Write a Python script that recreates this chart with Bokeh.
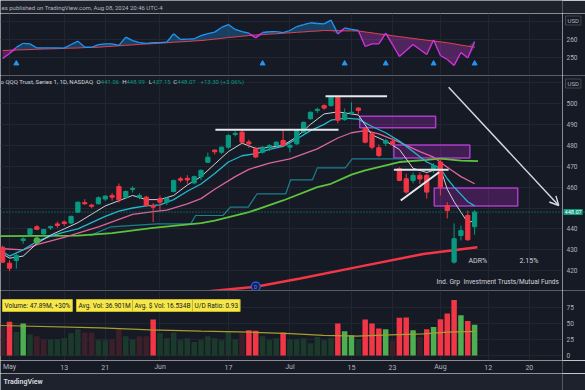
import numpy as np
from bokeh.plotting import figure
from bokeh.layouts import column, row
from bokeh.models import Range1d, FixedTicker, Label, Span, Arrow, OpenHead, ColumnDataSource
from bokeh.embed import file_html
from bokeh.resources import INLINE
from bokeh.core.properties import value

# ---------------- data ----------------
# bar index: -1 = Apr 30 2024, 0 = May 1, ... 68 = Aug 8 2024 (trading days)
bar_index = list(range(-1, 69))

opens = [431.2, 423.6, 424.9, 434.5, 437.4, 441.0, 437.6, 440.5, 442.4, 443.3,
         442.8, 448.0, 452.6, 451.4, 452.0, 454.3, 455.9, 460.3, 455.2, 458.9,
         455.2, 455.2, 451.2, 454.5, 452.8, 457.9, 464.0, 464.2, 462.0, 465.0,
         471.9, 477.7, 476.7, 479.1, 485.2, 486.3, 481.6, 478.3, 476.7, 479.1,
         479.9, 482.3, 479.1, 480.7, 486.3, 492.7, 496.8, 499.0, 499.0, 503.0,
         492.3, 495.3, 497.8, 487.9, 485.5, 478.8, 481.0, 481.8, 468.8, 464.0,
         463.2, 465.6, 465.6, 467.9, 472.0, 451.2, 424.1, 436.8, 446.4, 441.06]
highs = [432.0, 425.0, 428.0, 436.0, 440.3, 441.8, 440.0, 441.6, 443.5, 444.0,
         446.3, 453.0, 454.2, 452.0, 455.6, 456.0, 457.2, 461.7, 458.4, 460.4,
         457.0, 455.8, 452.3, 455.9, 455.2, 463.5, 465.0, 465.7, 465.5, 468.5,
         476.5, 478.0, 479.5, 485.3, 486.8, 487.3, 482.7, 479.3, 479.5, 480.5,
         481.9, 487.1, 481.0, 487.4, 491.3, 496.2, 498.0, 499.6, 503.5, 503.3,
         497.6, 500.6, 498.3, 488.3, 486.5, 480.4, 483.0, 483.5, 469.5, 466.4,
         467.0, 467.1, 466.4, 471.5, 473.7, 452.8, 442.6, 441.6, 448.8, 448.99]
lows = [423.6, 419.8, 421.0, 432.9, 437.0, 439.4, 437.2, 439.5, 440.5, 441.4,
        442.2, 447.7, 451.5, 449.9, 451.8, 453.4, 453.5, 452.6, 454.5, 457.4,
        454.2, 450.6, 443.3, 449.0, 451.5, 457.4, 462.3, 461.6, 461.4, 463.3,
        471.5, 475.6, 475.9, 478.3, 484.3, 480.5, 478.7, 473.8, 476.0, 477.3,
        479.2, 479.5, 476.7, 480.2, 486.0, 492.3, 495.5, 497.0, 498.5, 490.5,
        491.7, 494.5, 494.9, 480.9, 478.0, 474.3, 479.6, 479.9, 462.8, 456.9,
        461.8, 461.5, 454.5, 466.6, 456.0, 445.0, 423.4, 434.5, 434.3, 437.15]
closes = [424.1, 421.2, 427.3, 435.2, 440.0, 439.8, 439.7, 441.1, 441.6, 442.6,
          446.0, 452.8, 452.0, 450.8, 454.9, 455.7, 455.2, 453.9, 457.9, 459.4,
          456.0, 451.2, 450.4, 452.8, 454.6, 463.2, 463.3, 463.4, 465.0, 468.0,
          474.3, 476.9, 479.1, 484.7, 485.7, 481.5, 480.7, 474.4, 479.1, 479.9,
          481.5, 479.9, 480.0, 487.1, 491.0, 495.8, 497.2, 497.8, 503.0, 492.0,
          495.2, 495.8, 496.7, 481.5, 479.1, 475.1, 482.3, 480.4, 463.2, 457.6,
          465.6, 463.9, 457.6, 470.3, 460.0, 448.8, 435.3, 439.2, 434.8, 448.07]

volume_m = [44.7, 52.6, 36.8, 50.0, 33.0, 30.0, 24.7, 24.7, 25.0, 27.0,
            34.7, 41.0, 36.0, 36.0, 24.0, 24.0, 25.0, 41.0, 30.0, 25.0,
            30.0, 30.0, 56.3, 34.7, 27.0, 36.0, 24.0, 27.0, 21.0, 24.0,
            30.0, 27.0, 24.0, 37.9, 25.0, 34.7, 39.5, 38.5, 30.0, 24.0,
            27.0, 36.0, 25.0, 25.0, 27.0, 19.0, 29.0, 24.0, 27.0, 50.0,
            37.9, 31.6, 25.0, 56.3, 50.0, 42.0, 41.0, 23.0, 59.0, 59.5,
            39.5, 29.0, 41.0, 44.7, 56.8, 65.8, 86.9, 63.0, 54.0, 47.89]
vol_above_avg_bars = [0, 2, 21, 35, 36, 40, 48, 49, 50, 52, 53, 54, 55, 57, 58, 59,
                      61, 62, 63, 64, 65, 66, 67, 68]
vol_avg_bars = [-1.3, 13.3, 20.6, 28.0, 35.2, 41.1, 45.9, 50.8, 55.7, 60.5, 64.0, 68.1]
vol_avg_m = [46.9, 43.3, 40.1, 38.0, 36.4, 34.3, 31.3, 30.2, 32.3, 33.9, 36.4, 37.6]

# moving averages on price (bar, value)
ma_fast_bars = [-1, 0, 2, 4, 6, 8, 10, 12, 14, 16, 18, 20, 22, 24, 26, 28, 30, 32, 34, 36,
                38, 40, 42, 44, 46, 48, 50, 51, 53, 55, 56, 57, 59, 61, 63, 64, 65, 66, 67, 68]
ma_fast = [428, 426, 427, 433, 437, 440, 443, 447, 451, 453.5, 456, 454, 454, 456, 461, 465,
           471, 477, 481, 478.5, 479, 480, 484, 490, 495, 496, 495, 494.5, 485, 482, 480, 478,
           469, 467, 469, 459, 453, 448, 443, 444]
ma_mid_bars = [-1, 0, 2, 4, 6, 8, 10, 12, 14, 16, 18, 20, 22, 24, 26, 28, 30, 32, 34, 36, 38,
               40, 42, 44, 46, 47, 49, 51, 53, 55, 57, 59, 61, 63, 64, 65, 66, 67, 68]
ma_mid = [429, 427, 430, 434, 436.5, 438.5, 440, 443, 446, 448.5, 450, 451, 451.5, 454, 458,
          461.5, 466.5, 472, 475, 476, 478, 479.5, 483, 487, 490, 492, 493, 492.5, 489, 486,
          482, 477, 472, 469, 464, 460, 456.5, 453, 451]
ma_slow_bars = [-1, 2, 4, 8, 13, 18, 21, 23, 26, 28, 30, 33, 35, 38, 41, 45, 48, 50, 52, 54,
                57, 60, 62, 64, 66, 68]
ma_slow = [430.5, 430, 432.5, 436, 441, 447, 448.3, 449, 452, 454.5, 459, 465, 468.5, 471.5,
           473.5, 478.3, 483.5, 486, 487, 485.5, 481.5, 477, 474.3, 469.5, 465, 461.6]
ma50_bars = [-1.5, 10, 15, 21, 28, 30, 35, 40, 45, 47, 50, 52, 57, 61, 63, 66, 68.5]
ma50 = [436.5, 436.8, 438, 440.5, 442.8, 444, 448, 453.6, 460, 461.6, 466, 468, 472, 473,
        473.6, 472.7, 472.4]
stop_bars = [11.8, 14.8, 21.6, 26.5, 27.2, 31.2, 32.3, 34.9, 36.2, 40.4, 41.1, 44.3, 45.0,
             49.1, 50.1, 57.5]
stop_line = [436.8, 441.0, 442.4, 442.4, 446.4, 446.4, 450.4, 450.4, 456.8, 456.8, 463.5,
             463.5, 469.2, 469.2, 473.5, 473.5]
ma200_bars = [28, 36.2, 42.5, 50.8, 60.5, 68.4]
ma200 = [409.8, 412.4, 416.3, 421.7, 428.0, 431.2]

# drawings (bar, price)
zone_left = [51.2, 56.2, 62.1]
zone_right = [62.3, 67.3, 74.3]
zone_low = [488.4, 473.9, 450.9]
zone_high = [493.9, 480.2, 459.6]
level_x0 = [30.1, 46.2, 56.2]
level_x1 = [48.1, 55.2, 64.2]
level_price = [487.4, 503.5, 468.3]
trend_x = [57.2, 62.8]
trend_y = [453.6, 467.1]
arrow_x = [64.2, 80.3]
arrow_y = [507.8, 451.2]
dividend_bar, dividend_level = 36, 412.4
pivot_bar, pivot_level = 4, 434.4

# relative-strength pane
rs_values = [249.4, 252.2, 255.6, 257.9, 257.6, 255.3, 255.3, 255.3, 255.3, 255.2,
             257.2, 259.1, 255.7, 255.7, 257.2, 257.6, 257.6, 256.7, 261.3, 259.4,
             258.3, 257.9, 258.3, 258.3, 258.5, 263.2, 260.0, 260.2, 260.4, 262.2,
             263.3, 264.1, 266.7, 268.3, 265.6, 264.4, 263.5, 260.9, 263.9, 264.3,
             264.4, 263.8, 265.0, 267.2, 268.3, 269.3, 268.9, 268.7, 270.8, 263.1,
             266.4, 265.6, 265.0, 256.1, 257.6, 257.6, 263.5, 257.2, 250.6, 253.9,
             257.2, 254.4, 251.7, 259.7, 251.1, 248.9, 245.6, 252.8, 249.7, 258.9]
rs_ma = [253.9, 254.0, 254.2, 254.3, 254.4, 254.6, 254.7, 254.8, 254.9, 255.1,
         255.2, 255.3, 255.5, 255.6, 255.7, 256.0, 256.2, 256.5, 256.8, 257.0,
         257.3, 257.5, 257.7, 258.0, 258.2, 258.5, 258.7, 258.9, 259.2, 259.4,
         259.8, 260.2, 260.6, 261.1, 261.4, 261.8, 262.2, 262.5, 262.7, 263.0,
         263.2, 263.5, 263.7, 264.0, 264.2, 264.5, 264.7, 265.0, 264.9, 264.9,
         264.8, 264.8, 264.7, 264.2, 263.7, 263.1, 262.6, 262.1, 261.6, 261.1,
         260.6, 260.1, 259.6, 259.1, 258.7, 258.2, 257.6, 256.9, 256.3, 255.7]
rs_signal_bars = [1, 37, 49, 55, 62, 68]

date_ticks = [0, 8, 14, 22, 32, 41, 50, 56, 63, 70, 76]
date_labels = ["May", "13", "21", "Jun", "17", "Jul", "15", "23", "Aug", "12", "20"]
price_ticks = [420, 430, 440, 460, 470, 480, 490, 500]
rs_ticks = [250, 260]
vol_ticks = [0, 25, 50, 75]

# ---------------- style ----------------
BG = "#161a25"
BAR_BG = "#1e222d"
GRID = "#222632"
SEP = "#2a2e39"
TXT = "#b2b5be"
LIGHT = "#d1d4dc"
UP = "#089981"
DN = "#f23645"
FONT = "Roboto"

def xi(px):
    return (px - 9.0) / 6.84

def y_main(py):
    return 500.0 - (py - 103.0) / 2.09

def y_rs(py):
    return 260.0 - (py - 39.0) / 1.8

def y_vol(py):
    return (355.0 - py) / 0.64

W = 585
FRAME_W = 562
SCALE_W = W - FRAME_W
x_range = Range1d(xi(0), xi(FRAME_W))


def base_fig(w, h, xr, yr, bg=BG):
    f = figure(width=w, height=h, x_range=xr, y_range=yr,
               output_backend="svg", toolbar_location=None, title=None,
               x_axis_location=None, y_axis_location=None,
               min_border_left=0, min_border_right=0, min_border_top=0,
               min_border_bottom=0, background_fill_color=bg,
               border_fill_color=bg, outline_line_color=None)
    return f


def pane(h, y_range, yticks):
    p = base_fig(FRAME_W, h, x_range, y_range)
    p.xgrid.ticker = FixedTicker(ticks=date_ticks)
    p.ygrid.ticker = FixedTicker(ticks=yticks)
    p.xgrid.grid_line_color = GRID
    p.ygrid.grid_line_color = GRID
    return p


def scale(h, y_range, ticks, texts, size="6.5px"):
    s = base_fig(SCALE_W, h, Range1d(0, SCALE_W), y_range)
    s.grid.visible = False
    s.text(x=[4] * len(ticks), y=ticks, text=texts, text_font=value(FONT),
           text_font_size=size, text_color=TXT, text_baseline="middle")
    return s


def label(p, x, y, text, color=TXT, size="6px", align="left", x_offset=0,
          bg=None, border=None, pad=0, style="normal"):
    p.add_layout(Label(x=x, y=y, text=text, x_offset=x_offset, text_color=color,
                       text_font=FONT, text_font_size=size, text_font_style=style,
                       text_align=align, text_baseline="middle",
                       background_fill_color=bg, border_line_color=border,
                       padding=pad))


def bar_fig(h, txt, tx, size, style, color):
    f = base_fig(W, h, Range1d(0, W), Range1d(0, h), bg=BAR_BG)
    f.grid.visible = False
    f.text(x=[tx], y=[h / 2.0], text=[txt], text_font=value(FONT),
           text_font_size=size, text_color=color, text_baseline="middle",
           text_align="left", text_font_style=style)
    return f

# ---------------- header ----------------
header = bar_fig(13, "es published on TradingView.com, Aug 08, 2024 20:46 UTC-4", 1,
                 "6px", "normal", TXT)

# ---------------- RS pane ----------------
rs_range = Range1d(y_rs(75), y_rs(13))
ind = pane(62, rs_range, [250, 260, 270])
rs = np.array(rs_values)
rm = np.array(rs_ma)
ind.varea(x=bar_index, y1=rm, y2=np.maximum(rs, rm), fill_color="#2196f3", fill_alpha=0.3)
ind.varea(x=bar_index, y1=rm, y2=np.minimum(rs, rm), fill_color="#d63ae0", fill_alpha=0.3)
ind.line(bar_index, rs_ma, line_color="#e0434f", line_width=1)
d = rs - rm
seg_col = ["#2196f3" if (d[k] + d[k + 1]) >= 0 else "#d633e0" for k in range(len(d) - 1)]
ind.segment(x0=bar_index[:-1], y0=rs_values[:-1], x1=bar_index[1:], y1=rs_values[1:],
            line_color=seg_col, line_width=1.3)
ind.scatter(rs_signal_bars, [y_rs(63)] * len(rs_signal_bars), marker="triangle", size=5,
            color="#2196f3")
ind_scale = scale(62, rs_range, rs_ticks, [str(t) for t in rs_ticks])
label(ind_scale, 3, y_rs(20), "USD", border="#434651", pad=(2, 1))

# ---------------- main price pane ----------------
main_range = Range1d(y_main(290), y_main(75))
main = pane(215, main_range, list(range(420, 520, 10)))

main.quad(left=zone_left, right=zone_right, bottom=zone_low, top=zone_high,
          fill_color="#9c27b0", fill_alpha=0.33, line_color="#a93cc9", line_width=1.5)

main.line(ma200_bars, ma200, line_color="#f23645", line_width=2.5)
main.line(stop_bars, stop_line, line_color="#1d7f8c", line_width=1.2)
main.line(ma50_bars, ma50, line_color="#5cc43c", line_width=1.8)
main.line(ma_slow_bars, ma_slow, line_color="#d9659b", line_width=1.3)
main.line(ma_mid_bars, ma_mid, line_color="#22b8cf", line_width=1.3)
main.line(ma_fast_bars, ma_fast, line_color="#cfd2da", line_width=1)

o = np.array(opens); c = np.array(closes)
top = np.maximum(o, c)
bot = np.minimum(o, c)
bot = np.where(top - bot < 0.5, top - 0.5, bot)
ccol = [UP if cc >= oo else DN for oo, cc in zip(opens, closes)]
src = ColumnDataSource(dict(x=bar_index, h=highs, l=lows, top=top, bot=bot, col=ccol))
main.segment(x0="x", y0="h", x1="x", y1="l", line_color="col", line_width=1, source=src)
main.vbar(x="x", width=0.62, top="top", bottom="bot", fill_color="col", line_color="col",
          source=src)

main.add_layout(Span(location=closes[-1], dimension="width", line_color=UP,
                     line_dash="1 2", line_width=1))

main.segment(x0=level_x0, y0=level_price, x1=level_x1, y1=level_price,
             line_color="#e6e8ee", line_width=2)
main.line(trend_x, trend_y, line_color="#e6e8ee", line_width=2)
main.add_layout(Arrow(end=OpenHead(size=9, line_color="#d7d9e0", line_width=1.4),
                      x_start=arrow_x[0], y_start=arrow_y[0], x_end=arrow_x[1],
                      y_end=arrow_y[1], line_color="#d7d9e0", line_width=1.4))

main.scatter([pivot_bar], [pivot_level], size=6, color="#4caf50")
main.scatter([dividend_bar], [dividend_level], size=9, fill_color="#172050",
             line_color="#2962ff", line_width=1.2)
main.text(x=[dividend_bar], y=[dividend_level], text=["D"], text_font=value(FONT),
          text_font_size="5px", text_color="#5b8cff", text_align="center",
          text_baseline="middle")

# title line
ty = y_main(81)
label(main, xi(0), ty, "o QQQ Trust, Series 1, 1D, NASDAQ", color=LIGHT)
for letter, lx, val, vx in [("O", 96, "441.06", 100.3), ("H", 121.7, "448.99", 126),
                            ("L", 148.3, "437.15", 151.8), ("C", 172.7, "448.07", 176.8)]:
    label(main, xi(lx), ty, letter, color=LIGHT)
    label(main, xi(vx), ty, val, color=UP)
label(main, xi(200), ty, "+13.30 (+3.06%)", color=UP)

# info texts
label(main, xi(468), y_main(260.7), "ADR%", color=LIGHT, size="7px")
label(main, xi(519), y_main(260.7), "2.15%", color=LIGHT, size="7px")
label(main, xi(436), y_main(281.7), "Ind. Grp", color=LIGHT, size="6.8px")
label(main, xi(463), y_main(281.7), "Investment Trusts/Mutual Funds", color=LIGHT,
      size="6.6px")

main_scale = scale(215, main_range, price_ticks, [str(t) for t in price_ticks])
label(main_scale, 3, y_main(83), "USD", border="#434651", pad=(2, 1))
main_scale.add_layout(Span(location=closes[-1], dimension="width", line_color=UP,
                           line_dash="1 2", line_width=1))
label(main_scale, 1, closes[-1], f"{closes[-1]:.2f}", color="#ffffff", size="5.6px",
      bg=UP, pad=(1, 1))

# ---------------- volume pane ----------------
vol_range = Range1d(y_vol(360), y_vol(290))
vol = pane(70, vol_range, vol_ticks)
vcol = []
for k, b in enumerate(bar_index):
    up = k > 0 and closes[k] >= closes[k - 1]
    if b in vol_above_avg_bars:
        vcol.append("#4caf50" if up else "#f23645")
    else:
        vcol.append("#1c3a2b" if up else "#3c1f29")
vol.vbar(x=bar_index, width=0.8, top=volume_m, bottom=0, fill_color=vcol, line_color=None)
vol.line(vol_avg_bars, vol_avg_m, line_color="#a89e2c", line_width=1.2)

for txt, bx in [("Volume: 47.89M, +30%", 2), ("Avg. Vol: 36.901M", 76),
                ("Avg. $ Vol: 16.534B", 132), ("U/D Ratio: 0.93", 192)]:
    label(vol, xi(bx), y_vol(305), txt, color="#131722", size="6.5px", bg="#f7e84a",
          border="#c8b820", pad=(2, 2))
vol_scale = scale(70, vol_range, vol_ticks, [str(t) for t in vol_ticks])

# ---------------- time scale ----------------
dates = base_fig(W, 13, x_range, Range1d(0, 13))
dates.min_border_right = SCALE_W
dates.grid.visible = False
dates.text(x=date_ticks, y=[6.5] * len(date_ticks), text=date_labels,
           text_font=value(FONT), text_font_size="7px", text_color=TXT,
           text_align="center", text_baseline="middle")

# pane separators
for fig, rng in [(main, main_range), (main_scale, main_range), (vol, vol_range),
                 (vol_scale, vol_range)]:
    fig.add_layout(Span(location=rng.end, dimension="width", line_color=SEP, line_width=1))

# ---------------- footer ----------------
footer = bar_fig(17, "TradingView", 3, "7px", "bold", LIGHT)

layout = column(header,
                row(ind, ind_scale, spacing=0),
                row(main, main_scale, spacing=0),
                row(vol, vol_scale, spacing=0),
                dates, footer, spacing=0)
open("out.html", "w").write(file_html(layout, INLINE))
